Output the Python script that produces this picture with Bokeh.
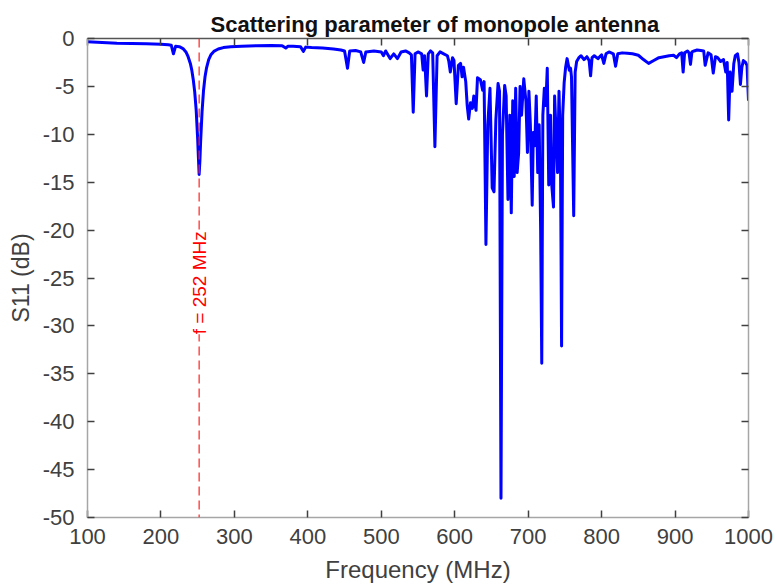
import math
from bokeh.plotting import figure
from bokeh.models import LinearAxis, Range1d, FixedTicker, Span, Label, CustomJSTickFormatter
from bokeh.embed import file_html
from bokeh.resources import INLINE

# ---- data ----
freq_mhz = [
    100, 120, 140, 160, 180, 200, 210, 214, 217, 220,
    225, 230, 234, 237, 240, 242, 244, 246, 248, 250,
    251, 252, 253, 254, 256, 258, 260, 262, 265, 268,
    272, 278, 285, 295, 310, 330, 350, 365, 370, 373,
    380, 390, 394, 397, 405, 420, 435, 445, 450, 454,
    457, 465, 472, 476, 479, 490, 500, 503, 506, 512,
    517, 522, 527, 533, 538, 541, 543.5, 546, 550, 555,
    557, 559, 561.6, 564, 567, 570, 573, 576, 580, 585,
    590, 592, 594, 597, 599, 602, 605, 608, 610, 612,
    615, 617, 619, 621.5, 624, 626, 629, 631, 635, 638,
    640, 642.5, 645, 648, 651, 653.5, 656, 659, 661, 663,
    665, 668, 670, 672.5, 675, 677, 679, 681, 683, 685,
    687, 689, 691, 694, 697, 699, 701, 703, 705.5, 707,
    709, 711, 713, 715, 717, 718.5, 720, 722, 724, 726,
    728, 730.5, 732, 734.5, 736, 738, 740, 742, 744, 745.5,
    747, 749, 751, 753, 756, 757.7, 759, 762, 764, 766,
    769, 772, 776, 780, 783, 785, 787, 790, 795, 800,
    803, 806, 810, 813, 816, 819, 822, 828, 835, 842,
    850, 857, 864, 871, 878, 885, 892, 898, 902, 906,
    909, 911, 913, 917, 919, 921, 923, 926, 930, 935,
    939, 941, 945, 949, 952, 955, 958, 962, 966, 969,
    971, 973, 975, 977.6, 980, 982, 985, 987, 989, 991,
    993, 996, 998, 1000,
]
s11_db = [
    -0.35, -0.42, -0.50, -0.52, -0.55, -0.60, -0.65, -0.70, -1.60, -0.80,
    -0.85, -1.05, -1.40, -1.90, -2.60, -3.30, -4.30, -5.60, -7.50, -10.5,
    -12.4, -14.2, -12.8, -10.8, -7.60, -5.40, -4.00, -3.10, -2.20, -1.70,
    -1.35, -1.10, -0.95, -0.85, -0.80, -0.75, -0.72, -0.75, -1.00, -0.80,
    -0.80, -0.85, -1.35, -0.90, -0.95, -1.00, -1.10, -1.20, -1.30, -3.10,
    -1.30, -1.25, -1.40, -2.50, -1.40, -1.30, -1.40, -1.80, -1.30, -2.10,
    -1.60, -2.10, -1.40, -1.30, -1.50, -1.70, -7.70, -1.60, -1.40, -1.60,
    -3.30, -1.80, -6.00, -1.60, -1.30, -1.50, -11.3, -1.80, -1.40, -1.60,
    -1.80, -2.40, -3.50, -2.00, -2.30, -6.80, -2.80, -2.60, -4.00, -3.00,
    -4.50, -7.00, -8.40, -6.70, -7.30, -6.00, -7.50, -4.10, -4.30, -5.40,
    -4.50, -21.5, -9.00, -5.20, -15.6, -16.0, -8.50, -4.70, -5.50, -48.0,
    -10.0, -4.90, -6.00, -16.8, -8.00, -18.2, -6.50, -14.4, -5.20, -14.0,
    -12.0, -5.00, -8.00, -4.20, -6.60, -11.9, -5.50, -9.00, -17.4, -9.80,
    -11.2, -6.00, -14.0, -9.00, -20.0, -33.9, -8.00, -5.20, -7.00, -3.10,
    -15.3, -8.00, -15.2, -17.6, -6.00, -9.80, -14.0, -5.50, -12.0, -32.1,
    -8.00, -4.60, -3.00, -2.10, -3.30, -3.10, -4.00, -18.5, -3.50, -2.40,
    -2.00, -1.80, -2.20, -1.90, -2.30, -3.90, -2.00, -1.80, -2.10, -1.70,
    -2.60, -1.60, -1.40, -1.50, -1.60, -2.90, -1.60, -1.50, -1.55, -1.60,
    -1.75, -2.20, -2.60, -2.30, -2.00, -1.90, -1.80, -1.75, -2.00, -1.60,
    -1.50, -3.50, -1.50, -1.30, -1.50, -2.70, -1.40, -1.30, -1.20, -1.25,
    -1.30, -2.80, -1.50, -1.70, -3.60, -1.90, -2.00, -2.40, -2.20, -3.50,
    -2.50, -8.50, -3.50, -5.50, -2.60, -1.80, -1.60, -2.50, -4.80, -3.00,
    -2.30, -2.50, -2.80, -6.50,
]
x_ticks = [100, 200, 300, 400, 500, 600, 700, 800, 900, 1000]
y_ticks = [0, -5, -10, -15, -20, -25, -30, -35, -40, -45, -50]
y_tick_labels = ["0", "-5", "-10", "-15", "-20", "-25", "-30", "-35", "-40", "-45", "-50"]
marker_freq = 252
marker_text = "f = 252 MHz"
marker_text_y = -25.5

assert len(freq_mhz) == len(s11_db)

FONT = "Liberation Sans"
TICK_COLOR = "#404040"
LIGHT_AXIS = "#a6a6a6"

p = figure(
    width=776, height=588,
    x_range=Range1d(100, 1000), y_range=Range1d(-50, 0),
    output_backend="svg", toolbar_location=None,
    min_border_left=87, min_border_right=28, min_border_top=38, min_border_bottom=71,
    title="Scattering parameter of monopole antenna",
)
p.title.align = "left"
p.title.offset = 123
p.title.text_font = FONT
p.title.text_font_size = "22px"
p.title.text_font_style = "bold"
p.title.text_color = "#111111"
p.title.standoff = 4

p.grid.visible = False
p.outline_line_color = None
p.background_fill_color = "white"
p.border_fill_color = "white"

blank = CustomJSTickFormatter(code="return '';")

def style_axis(ax, line_color, show_labels):
    ax.axis_line_color = line_color
    ax.axis_line_width = 1.5
    ax.major_tick_in = 7
    ax.major_tick_out = 0
    ax.major_tick_line_color = TICK_COLOR
    ax.major_tick_line_width = 1.5
    ax.minor_tick_line_color = None
    ax.major_label_text_font = FONT
    ax.major_label_text_color = TICK_COLOR
    if show_labels:
        ax.major_label_text_font_size = "22px"
    else:
        ax.formatter = blank
        ax.major_label_standoff = 0

xa = p.xaxis[0]
xa.ticker = FixedTicker(ticks=x_ticks)
style_axis(xa, LIGHT_AXIS, True)
xa.major_label_standoff = 11
xa.axis_label = "Frequency (MHz)"
xa.axis_label_text_font = FONT
xa.axis_label_text_font_size = "24px"
xa.axis_label_text_font_style = "normal"
xa.axis_label_text_color = TICK_COLOR
xa.axis_label_standoff = 9

ya = p.yaxis[0]
ya.ticker = FixedTicker(ticks=y_ticks)
ya.major_label_overrides = {t: lab for t, lab in zip(y_ticks, y_tick_labels)}
style_axis(ya, LIGHT_AXIS, True)
ya.major_label_standoff = 13
ya.axis_label = "S11 (dB)"
ya.axis_label_text_font = FONT
ya.axis_label_text_font_size = "23px"
ya.axis_label_text_font_style = "normal"
ya.axis_label_text_color = TICK_COLOR
ya.axis_label_standoff = 6

top = LinearAxis(ticker=FixedTicker(ticks=x_ticks))
style_axis(top, "#555555", False)
p.add_layout(top, "above")
right = LinearAxis(ticker=FixedTicker(ticks=y_ticks))
style_axis(right, LIGHT_AXIS, False)
p.add_layout(right, "right")

p.line(freq_mhz, s11_db, line_color="#0000ff", line_width=3, line_join="round")

p.add_layout(Span(location=marker_freq, dimension="height", line_color="#ff2020",
                  line_dash="9 5", line_width=1.2))
p.add_layout(Label(x=marker_freq, y=marker_text_y, text=marker_text, angle=math.pi / 2,
                   text_align="center", text_baseline="middle", text_color="#ff0000",
                   text_font=FONT, text_font_size="19px", background_fill_color="white"))

open("out.html", "w").write(file_html(p, INLINE))
